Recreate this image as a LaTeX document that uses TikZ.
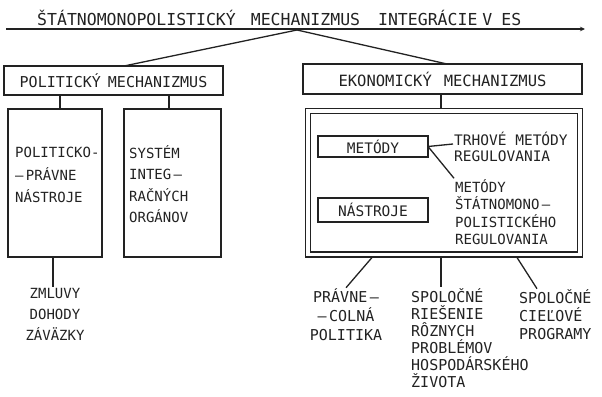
\documentclass[tikz,border=0pt]{standalone}
\usepackage{fontspec}
\newfontfamily\stencil{DejaVu Sans Mono}
\usetikzlibrary{arrows.meta}
\definecolor{ink}{HTML}{222222}
\tikzset{
  box/.style={draw=ink,line width=1.3pt,inner sep=0pt,outer sep=0pt,text=ink,
    font=\stencil\fontsize{14.5}{17}\selectfont},
  txt/.style={text=ink,inner sep=1pt,font=\stencil\fontsize{14}{18}\selectfont},
  wire/.style={draw=ink,line width=1.3pt},
}

\begin{document}
\begin{tikzpicture}[x=1pt,y=-1pt]
\useasboundingbox (0,0) rectangle (602,396);
\node[txt,anchor=west,font=\stencil\fontsize{16.5}{18}\selectfont] (title) at (36,18)
  {ŠTÁTNOMONOPOLISTICKÝ\hspace{15pt}MECHANIZMUS\hspace{18pt}INTEGRÁCIE\hspace{5pt}V\hspace{9pt}ES};
\coordinate (lineL) at (6,29);
\coordinate (lineR) at (585,29);
\coordinate (apex) at (297,30);
\draw[wire,-{Stealth[length=5pt,width=4.5pt]}] (lineL) -- (lineR);

\node[box,minimum width=219,minimum height=29,font=\stencil\fontsize{15}{17}\selectfont] (pol) at (113.5,80.5)
  {POLITICKÝ\hspace{7pt}MECHANIZMUS};
\node[box,minimum width=279,minimum height=30,font=\stencil\fontsize{15.5}{17}\selectfont] (eko) at (442.5,79)
  {EKONOMICKÝ\hspace{12pt}MECHANIZMUS};
\node[box,minimum width=94,minimum height=148] (pp) at (55,183) {};
\node[box,minimum width=97,minimum height=148] (sys) at (172.5,183) {};
\node[box,double=white,double distance=3.6pt,outer sep=3pt,
  minimum width=272,minimum height=143.5] (ramec) at (444,182.75) {};
\node[box,minimum width=110,minimum height=21] (met) at (373,146.5) {METÓDY};
\node[box,minimum width=110,minimum height=24] (nas) at (373,210) {NÁSTROJE};

\node[txt,align=left,anchor=west,font=\stencil\fontsize{14}{22.5}\selectfont] (pptext) at (14,175)
  {POLITICKO-\\–\,PRÁVNE\\NÁSTROJE};
\node[txt,align=left,anchor=west,font=\stencil\fontsize{14}{21.3}\selectfont] (systext) at (128,184)
  {SYSTÉM\\INTEG\,–\\RAČNÝCH\\ORGÁNOV};
\node[txt,align=center,font=\stencil\fontsize{14}{21}\selectfont] (zml) at (55,314)
  {ZMLUVY\\DOHODY\\ZÁVÄZKY};
\node[txt,align=left,anchor=west,font=\stencil\fontsize{14.5}{16}\selectfont] (trh) at (453,147)
  {TRHOVÉ METÓDY\\REGULOVANIA};
\node[txt,align=left,anchor=west,font=\stencil\fontsize{14}{17.3}\selectfont] (stat) at (454,212)
  {METÓDY\\ŠTÁTNOMONO\,–\\POLISTICKÉHO\\REGULOVANIA};
\node[txt,align=center,font=\stencil\fontsize{15}{19}\selectfont] (pcp) at (346,315)
  {PRÁVNE\,–\\–\,COLNÁ\\POLITIKA};
\node[txt,align=left,anchor=west,font=\stencil\fontsize{15}{17}\selectfont] (spr) at (410,338)
  {SPOLOČNÉ\\RIEŠENIE\\RÔZNYCH\\PROBLÉMOV\\HOSPODÁRSKÉHO\\ŽIVOTA};
\node[txt,align=left,anchor=west,font=\stencil\fontsize{15}{18}\selectfont] (scp) at (518,315)
  {SPOLOČNÉ\\CIEĽOVÉ\\PROGRAMY};

\draw[wire] (apex) -- (pol.north -| 124,0);
\draw[wire] (apex) -- (eko.north -| 447,0);
\draw[wire] (pol.south -| 60,0) -- (pp.north -| 60,0);
\draw[wire] (pol.south -| 169,0) -- (sys.north -| 169,0);
\draw[wire] (eko.south -| 441,0) -- (ramec.north -| 441,0);
\draw[wire] (pp.south -| 53,0) -- (zml.north -| 53,0);
\draw[wire] (met.east) -- ([yshift=3pt]trh.west);
\draw[wire] (met.east) -- (stat.north west);
\draw[wire] (ramec.south -| 372,0) -- (pcp.north);
\draw[wire] (ramec.south -| 441,0) -- (spr.north -| 441,0);
\draw[wire] (ramec.south -| 517,0) -- ([xshift=19pt]scp.north west);
\end{tikzpicture}
\end{document}
